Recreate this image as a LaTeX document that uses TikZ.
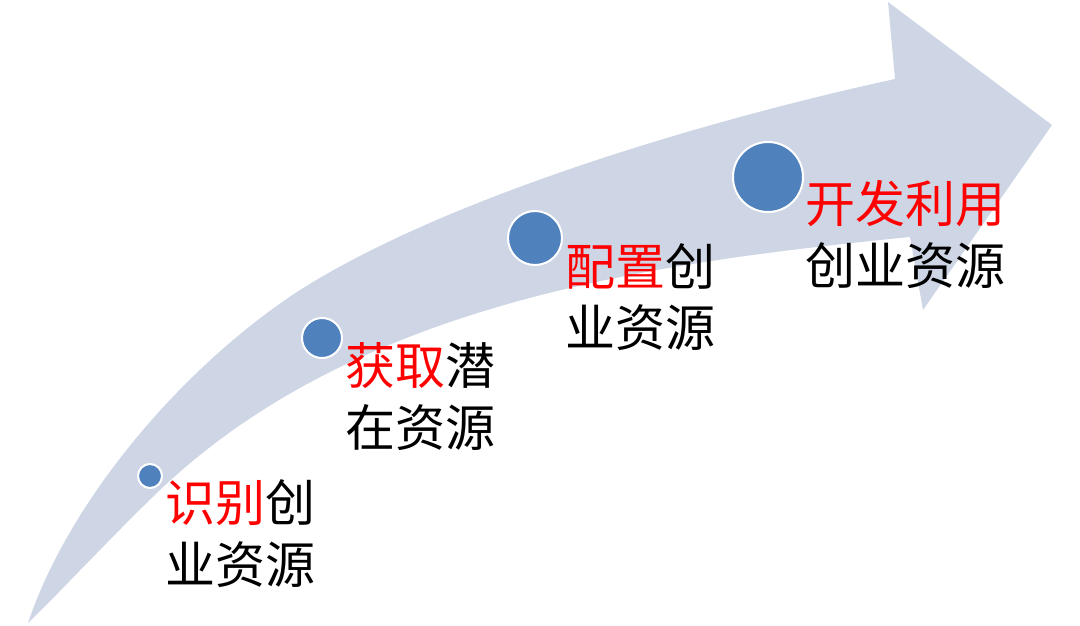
\documentclass[tikz,border=0pt]{standalone}
\usepackage{fontspec}
\newfontfamily\cjk{Noto Sans CJK SC}
\definecolor{bandfill}{RGB}{206,214,230}
\definecolor{dotblue}{RGB}{79,129,189}
\definecolor{hl}{RGB}{255,0,0}
\tikzset{
  dot/.style={circle,fill=dotblue,draw=white,line width=2pt,inner sep=0pt},
  lbl/.style={anchor=base west,inner sep=0pt,font=\cjk\fontsize{50}{60}\selectfont,text=black}
}
\begin{document}
\begin{tikzpicture}[x=1pt,y=-1pt]
\useasboundingbox (0,0) rectangle (1080,625);
% curved arrow
\fill[bandfill] (28,623)
  .. controls (68,503) and (180,368) .. (300,290)
  .. controls (450,195) and (715,118) .. (895,79)
  -- (888,2) -- (1052,125) -- (923,310) -- (910,237)
  .. controls (660,262) and (360,300) .. (160,490)
  .. controls (115,533) and (68,584) .. (28,623)
  -- cycle;
% dots
\node[dot,minimum size=24pt] (d1) at (150,476) {};
\node[dot,minimum size=40pt] (d2) at (322,338) {};
\node[dot,minimum size=54pt] (d3) at (535,238) {};
\node[dot,minimum size=70pt] (d4) at (768,177) {};
% labels
\node[lbl] (t1a) at (165,521) {\textcolor{hl}{识别}创};
\node[lbl] (t1b) at (165,583) {业资源};
\node[lbl] (t2a) at (345,384) {\textcolor{hl}{获取}潜};
\node[lbl] (t2b) at (345,446) {在资源};
\node[lbl] (t3a) at (565,285) {\textcolor{hl}{配置}创};
\node[lbl] (t3b) at (565,346) {业资源};
\node[lbl] (t4a) at (805,222) {\textcolor{hl}{开发利用}};
\node[lbl] (t4b) at (805,284) {创业资源};
\end{tikzpicture}
\end{document}
